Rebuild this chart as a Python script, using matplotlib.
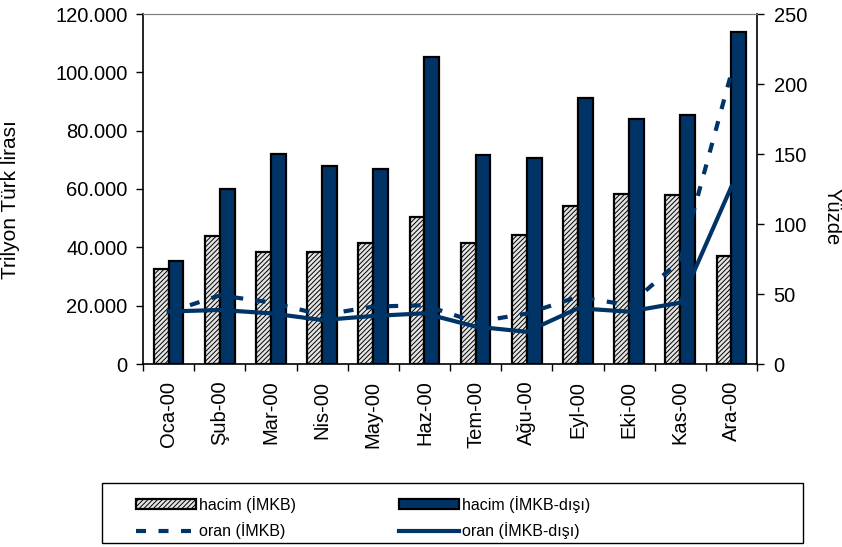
import matplotlib
matplotlib.use("Agg")
import matplotlib.pyplot as plt
import numpy as np
from matplotlib.patches import Rectangle
from matplotlib.ticker import FuncFormatter, MultipleLocator

plt.rcParams['font.family'] = ['Liberation Sans', 'DejaVu Sans']
plt.rcParams['hatch.linewidth'] = 0.7
plt.rcParams['hatch.color'] = '#606060'

months = ["Oca-00", "Şub-00", "Mar-00", "Nis-00", "May-00", "Haz-00",
          "Tem-00", "Ağu-00", "Eyl-00", "Eki-00", "Kas-00", "Ara-00"]
hacim_imkb = [32500, 43900, 38300, 38500, 41400, 50500,
              41400, 44200, 54300, 58400, 58000, 37200]
hacim_disi = [35400, 60000, 72000, 68000, 66800, 105200,
              71700, 70500, 91300, 84000, 85500, 113700]
oran_imkb = [37, 49, 44, 35, 41, 42, 30, 36, 48, 42, 74, 208]
oran_disi = [37.5, 38.6, 36.2, 31.4, 34.3, 36.2, 26.7, 23, 39.8, 37.4, 43.8, 126.7]

navy = '#003366'
W, H = 842, 547

fig = plt.figure(figsize=(W / 100, H / 100), dpi=100)
ax = fig.add_axes([143 / W, 1 - 364 / H, (757 - 143) / W, (364 - 14) / H])
ax2 = ax.twinx()

x = np.arange(len(months))
w = 0.29
b1 = ax.bar(x - w / 2, hacim_imkb, w, facecolor='#e4e4e4', hatch='///////',
            edgecolor='black', linewidth=1.6)
b2 = ax.bar(x + w / 2, hacim_disi, w, facecolor=navy,
            edgecolor='black', linewidth=1.6)

l1, = ax2.plot(x, oran_imkb, color=navy, lw=3, dashes=(2.4, 3.0))
l2, = ax2.plot(x, oran_disi, color=navy, lw=3)

ax.set_xlim(-0.5, len(months) - 0.5)
ax.set_ylim(0, 120000)
ax.yaxis.set_major_locator(MultipleLocator(20000))
ax.yaxis.set_major_formatter(FuncFormatter(lambda v, p: f"{int(v):,}".replace(",", ".")))
ax2.set_ylim(0, 250)
ax2.yaxis.set_major_locator(MultipleLocator(50))

ax.set_xticks(x)
ax.set_xticklabels(months, rotation=90, fontsize=14.5)
ax.set_xticks(np.arange(len(months) + 1) - 0.5, minor=True)
ax.tick_params(axis='x', which='major', length=0, pad=12)
ax.tick_params(axis='x', which='minor', length=5, width=1, direction='out')
ax.tick_params(axis='y', labelsize=14.5, length=5, width=1, direction='out', pad=6)
ax2.tick_params(axis='y', labelsize=14.5, length=5, width=1, direction='out', pad=7)

for sp in ['left', 'bottom']:
    ax.spines[sp].set_linewidth(1.2)
ax2.spines['right'].set_linewidth(1.2)
ax.spines['top'].set_color('#808080')
ax2.spines['top'].set_color('#808080')
ax.spines['right'].set_visible(False)
ax2.spines['left'].set_visible(False)
ax2.spines['bottom'].set_visible(False)

ax.set_ylabel("Trilyon Türk lirası", fontsize=15)
ax.yaxis.set_label_coords((20 - 143) / 614, 0.47)
ax2.set_ylabel("Yüzde", fontsize=14.5, rotation=-90, va='center')
ax2.yaxis.set_label_coords((832 - 143) / 614, 0.42)

# legend: two columns placed separately, one frame around both
yc = 1 - 517.4 / H
common = dict(loc='center left', fontsize=11.5, frameon=False, borderpad=0,
              borderaxespad=0, handlelength=3.75, handleheight=0.62,
              handletextpad=0.2, labelspacing=0.6)
fig.legend([b1, l1], ['hacim (İMKB)', 'oran (İMKB)'],
           bbox_to_anchor=(136 / W, yc), **common)
fig.legend([b2, l2], ['hacim (İMKB-dışı)', 'oran (İMKB-dışı)'],
           bbox_to_anchor=(399 / W, yc), **common)
fig.patches.append(Rectangle((102 / W, 1 - 543 / H), (803 - 102) / W, (543 - 483) / H,
                             transform=fig.transFigure, fill=False,
                             edgecolor='black', linewidth=1.0))

fig.savefig("out.png", dpi=100)
